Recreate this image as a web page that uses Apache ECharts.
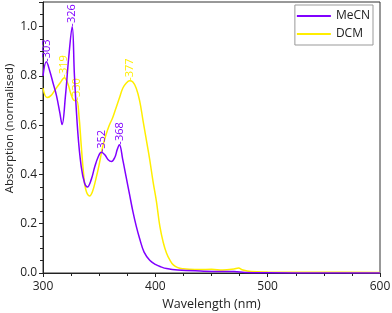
<!DOCTYPE html>
<html><head><meta charset="utf-8">
<script src="https://cdn.jsdelivr.net/npm/echarts@6/dist/echarts.min.js"></script>
<style>html,body{margin:0;padding:0;background:#fff}#c{width:392px;height:313px}</style>
</head><body><div id="c"></div>
<script>
const mecnWavelength = [300,303,306,309,312,315,317,320,323,326,328,331,334,337,339.5,343,346,349,352,355,358,361,364,366,368,371,374,377,380,383,386,390,395,400,405,410,420,440,460,470,480,500,550,600];
const mecnAbs =        [0.80,0.857,0.82,0.77,0.72,0.65,0.603,0.72,0.88,1.0,0.80,0.57,0.433,0.365,0.349,0.38,0.43,0.47,0.49,0.48,0.46,0.453,0.47,0.50,0.521,0.46,0.39,0.32,0.25,0.19,0.14,0.085,0.052,0.035,0.025,0.018,0.012,0.008,0.006,0.006,0.002,0.001,0.0,0.0];
const dcmWavelength = [300,303.6,307,311,315,319,322,325,328,330,332,334,336,338,341.5,344,347,350,353,356,359,362,365,368,371,374,377,380,383,386,389,392,395,398,401,404,407,410,413,416,420,425,430,440,450,460,470,474,478,485,500,550,600];
const dcmAbs =        [0.75,0.712,0.72,0.745,0.77,0.793,0.77,0.725,0.70,0.70,0.64,0.52,0.41,0.34,0.313,0.33,0.38,0.44,0.51,0.56,0.60,0.63,0.67,0.71,0.75,0.77,0.78,0.775,0.75,0.70,0.62,0.54,0.46,0.37,0.29,0.19,0.125,0.08,0.052,0.033,0.022,0.017,0.015,0.014,0.015,0.012,0.016,0.02,0.012,0.006,0.004,0.003,0.002];
const mecnPeaks = [303,326,352,368];
const dcmPeaks = [319,330,377];
const xTicks = [300,400,500,600];
const yTicks = [0.0,0.2,0.4,0.6,0.8,1.0];

const FONT = 'Open Sans';
function build(xs, ys, peaks, color){
  return xs.map((x,i)=>{
    const item = {value:[x, ys[i]]};
    if (peaks.indexOf(x) >= 0) {
      item.label = {show:true, formatter:'-' + x, rotate:90, position:'top', distance:0,
        align:'left', verticalAlign:'middle', color:color, fontSize:11, fontFamily:FONT};
    }
    return item;
  });
}
const purple = '#8000ff', yellow = '#ffee00';
const chart = echarts.init(document.getElementById('c'));
chart.setOption({
  animation:false,
  textStyle:{fontFamily:FONT},
  grid:{left:43, right:12, top:2, bottom:40, show:true, borderColor:'#333', borderWidth:1, containLabel:false, outerBoundsMode:'none'},
  legend:{orient:'vertical', right:19, top:5, itemWidth:34, itemHeight:2, itemGap:4,
    padding:[4,3,4,2], borderColor:'#999', borderWidth:1, backgroundColor:'#fff',
    textStyle:{fontSize:12, lineHeight:14, color:'#222', fontFamily:FONT},
    data:[{name:'MeCN', icon:'rect'},{name:'DCM', icon:'rect'}]},
  xAxis:{type:'value', min:xTicks[0], max:xTicks[xTicks.length-1], interval:100,
    name:'Wavelength (nm)', nameLocation:'middle', nameGap:25, nameMoveOverlap:false,
    nameTextStyle:{fontSize:12.5, color:'#222', fontFamily:FONT},
    axisLine:{lineStyle:{color:'#222'}}, axisTick:{inside:false, length:4, lineStyle:{color:'#222'}},
    minorTick:{show:true, splitNumber:4, length:3, lineStyle:{color:'#222'}},
    splitLine:{show:false}, axisLabel:{fontSize:12, color:'#222', margin:8}},
  yAxis:{type:'value', min:0, max:1.1, interval:0.2,
    name:'Absorption (normalised)', nameLocation:'middle', nameGap:27, nameMoveOverlap:false,
    nameTextStyle:{fontSize:11.5, color:'#222', fontFamily:FONT, padding:[0,0,0,18]},
    axisLine:{show:true, lineStyle:{color:'#222'}}, axisTick:{show:true, inside:false, length:4, lineStyle:{color:'#222'}},
    minorTick:{show:true, splitNumber:4, length:3, lineStyle:{color:'#222'}},
    splitLine:{show:false},
    axisLabel:{fontSize:12, color:'#222', margin:6, showMaxLabel:false, formatter:v=>v.toFixed(1)}},
  series:[
    {name:'MeCN', type:'line', smooth:0.4, symbol:'circle', symbolSize:0.01, showSymbol:true, showAllSymbol:true,
     color:purple, itemStyle:{color:purple}, lineStyle:{width:1.5, color:purple}, z:3,
     labelLayout:{hideOverlap:false},
     data:build(mecnWavelength, mecnAbs, mecnPeaks, purple)},
    {name:'DCM', type:'line', smooth:0.4, symbol:'circle', symbolSize:0.01, showSymbol:true, showAllSymbol:true,
     color:yellow, itemStyle:{color:yellow}, lineStyle:{width:1.5, color:yellow}, z:2,
     labelLayout:{hideOverlap:false},
     data:build(dcmWavelength, dcmAbs, dcmPeaks, yellow)}
  ]
});
</script></body></html>
